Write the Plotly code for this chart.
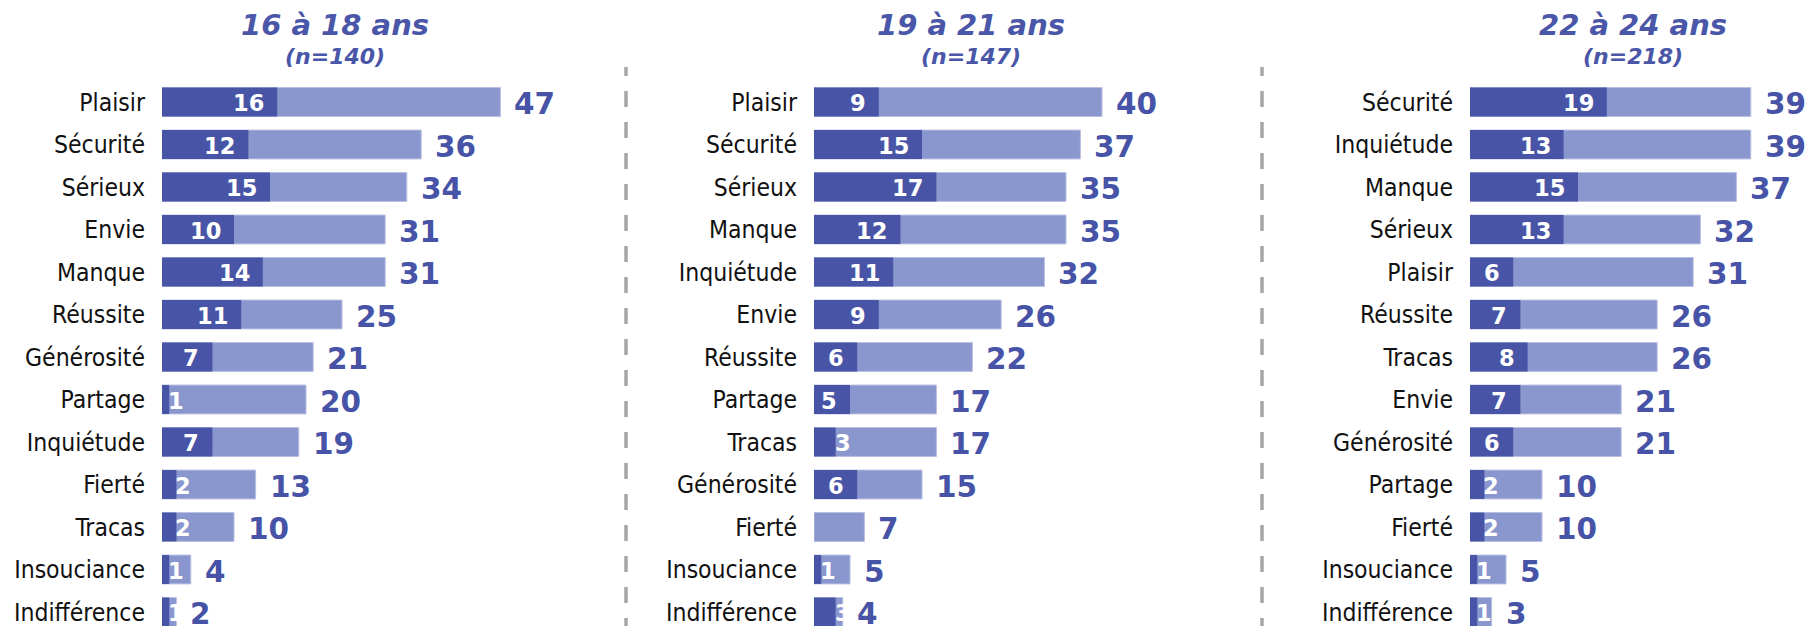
import plotly.graph_objects as go

W, H = 1818, 626

titles = ["16 à 18 ans", "19 à 21 ans", "22 à 24 ans"]
subtitles = ["(n=140)", "(n=147)", "(n=218)"]

cats_1 = ["Plaisir", "Sécurité", "Sérieux", "Envie", "Manque", "Réussite", "Générosité",
          "Partage", "Inquiétude", "Fierté", "Tracas", "Insouciance", "Indifférence"]
total_1 = [47, 36, 34, 31, 31, 25, 21, 20, 19, 13, 10, 4, 2]
first_1 = [16, 12, 15, 10, 14, 11, 7, 1, 7, 2, 2, 1, 1]

cats_2 = ["Plaisir", "Sécurité", "Sérieux", "Manque", "Inquiétude", "Envie", "Réussite",
          "Partage", "Tracas", "Générosité", "Fierté", "Insouciance", "Indifférence"]
total_2 = [40, 37, 35, 35, 32, 26, 22, 17, 17, 15, 7, 5, 4]
first_2 = [9, 15, 17, 12, 11, 9, 6, 5, 3, 6, 0, 1, 3]

cats_3 = ["Sécurité", "Inquiétude", "Manque", "Sérieux", "Plaisir", "Réussite", "Tracas",
          "Envie", "Générosité", "Partage", "Fierté", "Insouciance", "Indifférence"]
total_3 = [39, 39, 37, 32, 31, 26, 26, 21, 21, 10, 10, 5, 3]
first_3 = [19, 13, 15, 13, 6, 7, 8, 7, 6, 2, 2, 1, 1]

panels = [(cats_1, total_1, first_1), (cats_2, total_2, first_2), (cats_3, total_3, first_3)]

DARK = "#4855A6"
LIGHT = "#8A96CE"
TXT = "#4653A6"
OFF = 8  # page offset of the figure inside the browser window

bar_x0 = [162 - OFF, 814 - OFF, 1470 - OFF]   # px where bars start
XMAX = 48
PX_PER_UNIT = 7.2
plot_w = XMAX * PX_PER_UNIT
row_pitch = 42.5
first_center = 102 - OFF
top_px = first_center - row_pitch / 2
y_dom_top = 1 - top_px / H
rows_visible = (H - top_px) / row_pitch
y_range = [-0.5 + rows_visible, -0.5]

fig = go.Figure()
annotations = []
for i, (cats, tot, first) in enumerate(panels):
    k = "" if i == 0 else str(i + 1)
    xa, ya = "x" + k, "y" + k
    fig.add_trace(go.Bar(y=cats, x=tot, orientation="h",
                         marker=dict(color=LIGHT, line=dict(width=1, color="#B9C0E2")),
                         width=0.68, xaxis=xa, yaxis=ya, showlegend=False, hoverinfo="skip"))
    fig.add_trace(go.Bar(y=cats, x=first, orientation="h", marker=dict(color=DARK, line=dict(width=0)),
                         width=0.68, xaxis=xa, yaxis=ya, showlegend=False, hoverinfo="skip"))
    d0 = bar_x0[i] / W
    d1 = (bar_x0[i] + plot_w) / W
    fig.update_layout(**{
        "xaxis" + k: dict(domain=[d0, d1], range=[0, XMAX], visible=False, fixedrange=True),
        "yaxis" + k: dict(domain=[0, y_dom_top], range=y_range, type="category",
                          categoryorder="array", categoryarray=cats, anchor=xa,
                          showgrid=False, zeroline=False, showline=False, ticks="",
                          ticklabelstandoff=16,
                          tickfont=dict(family="DejaVu Sans Condensed", size=24.5, color="#111111")),
    })
    for c, t, f in zip(cats, tot, first):
        annotations.append(dict(x=t, y=c, xref=xa, yref=ya, text="<b>%d</b>" % t, showarrow=False,
                                xanchor="left", yanchor="middle", xshift=12, yshift=-2,
                                font=dict(family="DejaVu Sans", size=29.5, color=TXT)))
        if f > 0:
            if f >= 4:
                annotations.append(dict(x=f, y=c, xref=xa, yref=ya, text="<b>%d</b>" % f, showarrow=False,
                                        xanchor="right", yanchor="middle", xshift=-11, yshift=-1,
                                        font=dict(family="DejaVu Sans", size=22.5, color="white")))
            else:
                annotations.append(dict(x=f, y=c, xref=xa, yref=ya, text="<b>%d</b>" % f, showarrow=False,
                                        xanchor="left", yanchor="middle", xshift=-3, yshift=-1,
                                        font=dict(family="DejaVu Sans", size=22.5, color="white")))

title_cx = [335 - OFF, 971 - OFF, 1633 - OFF]
for i in range(3):
    annotations.append(dict(x=title_cx[i] / W, y=1 - (25 - OFF) / H, xref="paper", yref="paper",
                            text="<b><i>%s</i></b>" % titles[i], showarrow=False,
                            xanchor="center", yanchor="middle",
                            font=dict(family="DejaVu Sans", size=29, color="#4A56A8")))
    annotations.append(dict(x=title_cx[i] / W, y=1 - (57 - OFF) / H, xref="paper", yref="paper",
                            text="<b><i>%s</i></b>" % subtitles[i], showarrow=False,
                            xanchor="center", yanchor="middle",
                            font=dict(family="DejaVu Sans", size=22, color="#4A56A8")))

shapes = []
for sx in [626 - OFF, 1262 - OFF]:
    shapes.append(dict(type="line", xref="paper", yref="paper", x0=sx / W, x1=sx / W,
                       y0=0, y1=1 - (67 - OFF) / H,
                       line=dict(color="#A6A6A6", width=3.5, dash="16px,15px")))

fig.update_layout(width=W, height=H, margin=dict(l=0, r=0, t=0, b=0),
                  barmode="overlay", paper_bgcolor="white", plot_bgcolor="white",
                  annotations=annotations, shapes=shapes)
fig.write_html("out.html")
